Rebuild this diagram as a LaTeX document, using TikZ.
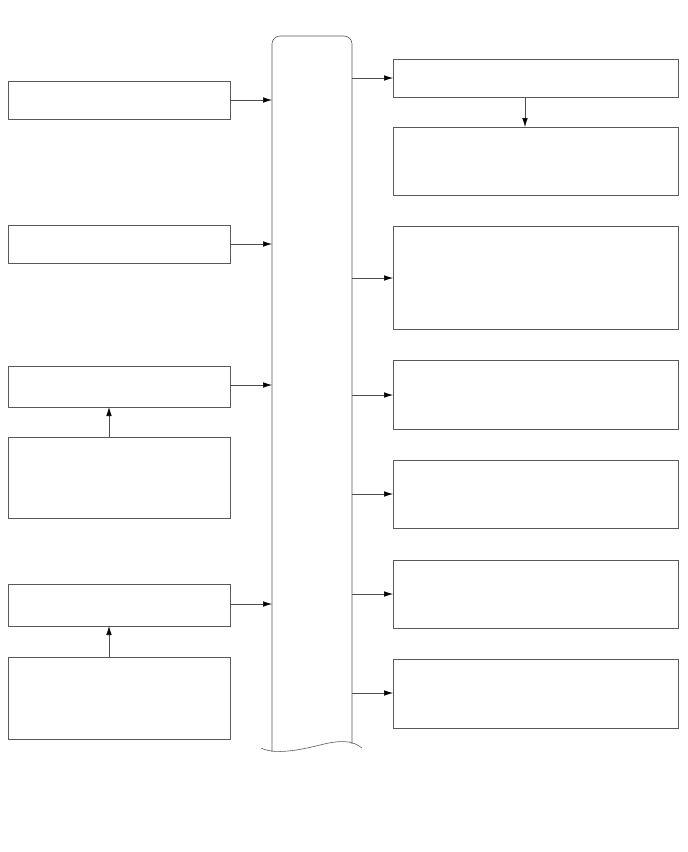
\documentclass[tikz,border=0pt]{standalone}
\usetikzlibrary{arrows.meta}
\begin{document}
\begin{tikzpicture}[x=1pt,y=-1pt,
  box/.style={draw=black!65,line width=0.6pt},
  link/.style={draw=black!70,line width=0.6pt,
    -{Latex[length=9pt,width=5.5pt,color=black]}}]
\useasboundingbox (0,0) rectangle (688,852);
% left column of boxes
\coordinate (L1a) at (8,81);   \coordinate (L1b) at (230,119);
\coordinate (L2a) at (8,225);  \coordinate (L2b) at (230,263);
\coordinate (L3a) at (8,366);  \coordinate (L3b) at (230,407);
\coordinate (L4a) at (8,437);  \coordinate (L4b) at (230,518);
\coordinate (L5a) at (8,584);  \coordinate (L5b) at (230,626);
\coordinate (L6a) at (8,657);  \coordinate (L6b) at (230,739);
\foreach \i in {1,...,6} \draw[box] (L\i a) rectangle (L\i b);
% right column of boxes
\coordinate (R1a) at (393,59);  \coordinate (R1b) at (678,97);
\coordinate (R2a) at (393,127); \coordinate (R2b) at (678,195);
\coordinate (R3a) at (393,226); \coordinate (R3b) at (678,329);
\coordinate (R4a) at (393,360); \coordinate (R4b) at (678,429);
\coordinate (R5a) at (393,460); \coordinate (R5b) at (678,528);
\coordinate (R6a) at (393,560); \coordinate (R6b) at (678,628);
\coordinate (R7a) at (393,659); \coordinate (R7b) at (678,728);
\foreach \i in {1,...,7} \draw[box] (R\i a) rectangle (R\i b);
% central bus with torn lower edge
\draw[box,rounded corners=8pt] (272,752) -- (272,36) -- (352,36) -- (352,744);
\draw[box] (261,748) .. controls (275,755) and (300,750) .. (320,745)
  .. controls (340,740) and (352,740) .. (362,748);
% inputs to the bus
\foreach \y in {100,244,385,604} \draw[link] (230,\y) -- (272,\y);
% outputs from the bus
\foreach \y in {78,278,395,494,594,693} \draw[link] (352,\y) -- (393,\y);
% vertical links
\draw[link] (525,97) -- (525,127);
\draw[link] (109,437) -- (109,407);
\draw[link] (109,657) -- (109,626);
\end{tikzpicture}
\end{document}
